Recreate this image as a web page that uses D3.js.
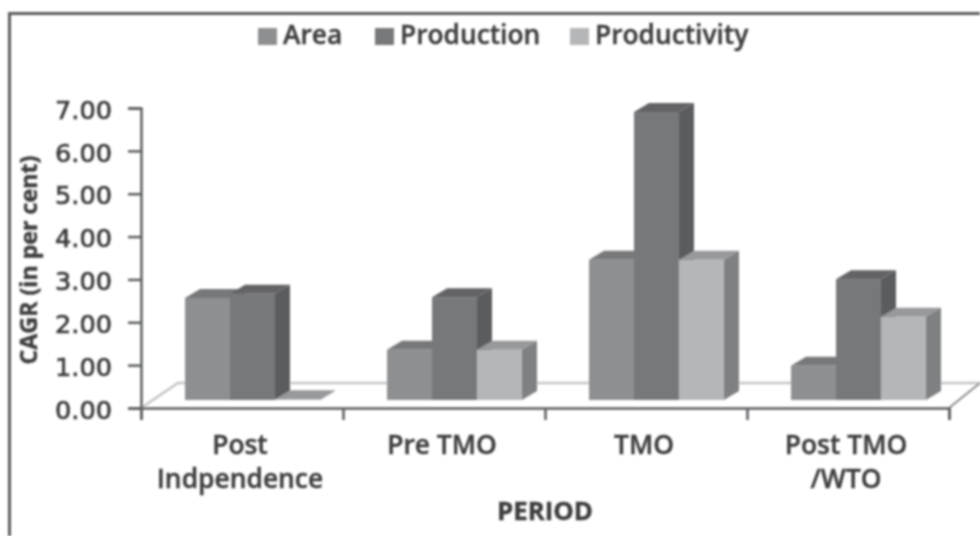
<!DOCTYPE html>
<html>
<head>
<meta charset="utf-8">
<script src="https://cdn.jsdelivr.net/npm/d3@7"></script>
<style>
    html, body { margin: 0; padding: 0; background: #fff; }
    svg { display: block; }
    text { font-family: "Open Sans", sans-serif; fill: #3c3c3e; stroke: #3c3c3e; stroke-width: 0.4; }
</style>
</head>
<body>
<svg id="chart" width="980" height="536"></svg>
<script>
const periods = [["Post", "Indpendence"], ["Pre TMO"], ["TMO"], ["Post TMO", "/WTO"]];
const seriesNames = ["Area", "Production", "Productivity"];
const area = [2.38, 1.17, 3.27, 0.8];
const production = [2.48, 2.4, 6.72, 2.82];
const productivity = [0.02, 1.17, 3.27, 1.94];
const yTicks = [0, 1, 2, 3, 4, 5, 6, 7];

const seriesValues = [area, production, productivity];
const frontColors = ["#8e8f91", "#77787a", "#b5b6b8"];
const topColors = ["#77787a", "#636466", "#98999b"];
const sideColors = ["#6c6d6f", "#5a5b5d", "#7f8082"];

const svg = d3.select("#chart");
const root = svg.append("g").attr("filter", "url(#soft)");

svg.append("defs").append("filter").attr("id", "soft")
    .append("feGaussianBlur").attr("stdDeviation", 1);

const x0 = d3.scaleBand().domain(d3.range(periods.length)).range([141, 949]);
const x1 = d3.scaleBand().domain(d3.range(seriesNames.length)).range([44, 179]);
const y = d3.scaleLinear().domain([0, 7]).range([408, 108]);

const depth = { dx: 15, dy: 9 };
const barLift = 8; // bars stand inside the floor, above the axis line
const floor = { dx: 37, dy: 25 };

// frame
root.append("path")
    .attr("d", "M9.5,536V13.5H980")
    .attr("fill", "none").attr("stroke", "#5c5d5f").attr("stroke-width", 3);

// floor
root.append("path")
    .attr("d", d3.line()([
        [x0.range()[0], y(0)],
        [x0.range()[0] + floor.dx, y(0) - floor.dy],
        [980, y(0) - floor.dy]
    ]))
    .attr("fill", "none").attr("stroke", "#c4c5c7").attr("stroke-width", 2.5);
root.append("path")
    .attr("d", d3.line()([[x0.range()[1], y(0)], [980, y(0) - floor.dy]]))
    .attr("fill", "none").attr("stroke", "#8c8d8f").attr("stroke-width", 2);

// bars, back faces first so neighbours overlap properly
const groups = root.selectAll("g.period")
    .data(periods)
    .join("g")
    .classed("period", true)
    .attr("transform", (d, i) => `translate(${x0(i)},0)`);

groups.each(function (d, i) {
    const g = d3.select(this);
    seriesValues.forEach((values, s) => {
        const left = x1(s);
        const right = left + x1.bandwidth();
        const base = y(0) - barLift;
        const top = y(values[i]) - barLift;
        g.append("path")
            .attr("fill", topColors[s])
            .attr("d", d3.line()([
                [left, top], [left + depth.dx, top - depth.dy],
                [right + depth.dx, top - depth.dy], [right, top]
            ]) + "Z");
        g.append("path")
            .attr("fill", sideColors[s])
            .attr("d", d3.line()([
                [right, top], [right + depth.dx, top - depth.dy],
                [right + depth.dx, base - depth.dy], [right, base]
            ]) + "Z");
        g.append("rect")
            .attr("fill", frontColors[s])
            .attr("x", left).attr("y", top)
            .attr("width", x1.bandwidth()).attr("height", base - top);
    });
});

// axes
const yAxis = d3.axisLeft(y).tickValues(yTicks).tickFormat(d3.format(".2f")).tickSize(13).tickPadding(16);
const gy = root.append("g").attr("transform", "translate(141,0)").call(yAxis);
const xAxis = d3.axisBottom(d3.scaleLinear().domain([0, 4]).range(x0.range()))
    .ticks(4).tickFormat("").tickSize(12);
const gx = root.append("g").attr("transform", `translate(0,${y(0)})`).call(xAxis);

[gy, gx].forEach(a => {
    a.selectAll("path.domain, line").attr("stroke", "#5c5d5f").attr("stroke-width", 2.5);
});
gy.selectAll("text")
    .style("font-family", '"DejaVu Sans", sans-serif')
    .attr("font-size", 25.6)
    .attr("dy", "0.4em")
    .style("fill", "#3c3c3e")
    .style("stroke", "#3c3c3e")
    .style("stroke-width", 0.7);

// category labels
const catLabels = root.selectAll("text.cat")
    .data(periods)
    .join("text")
    .classed("cat", true)
    .attr("text-anchor", "middle")
    .attr("x", (d, i) => x0(i) + x0.bandwidth() / 2 - 2)
    .attr("y", 454)
    .attr("font-size", 26.4).attr("font-weight", 600);
catLabels.selectAll("tspan")
    .data(d => d)
    .join("tspan")
    .attr("x", function () { return d3.select(this.parentNode).attr("x"); })
    .attr("dy", (d, i) => i ? 34 : 0)
    .text(d => d);

// axis titles
root.append("text")
    .attr("text-anchor", "middle")
    .attr("x", 545).attr("y", 520)
    .attr("font-size", 25.8).attr("font-weight", 700)
    .text("PERIOD");
root.append("text")
    .attr("text-anchor", "middle")
    .attr("transform", "translate(37,260) rotate(-90)")
    .attr("font-size", 23.2).attr("font-weight", 700)
    .text("CAGR (in per cent)");

// legend
const legendX = [258, 375, 570];
const legend = root.selectAll("g.legend")
    .data(seriesNames)
    .join("g")
    .classed("legend", true)
    .attr("transform", (d, i) => `translate(${legendX[i]},0)`);
legend.append("rect")
    .attr("y", 28).attr("width", 19).attr("height", 17)
    .attr("fill", (d, i) => frontColors[i]);
legend.append("text")
    .attr("x", 25).attr("y", 44)
    .attr("font-size", 26.3).attr("font-weight", 600)
    .text(d => d);
</script>
</body>
</html>
